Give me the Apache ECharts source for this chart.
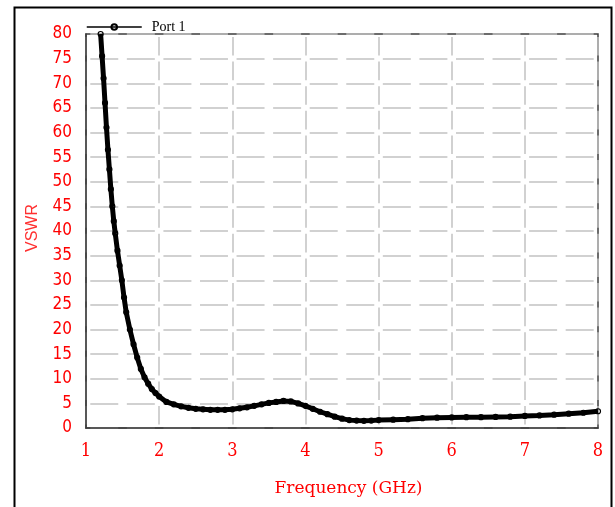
<!DOCTYPE html>
<html>
<head>
<meta charset="utf-8">
<script src="https://cdn.jsdelivr.net/npm/echarts@6/dist/echarts.min.js"></script>
<style>
  html, body { margin: 0; padding: 0; background: #fff; }
  #chart { width: 615px; height: 507px; }
</style>
</head>
<body>
<div id="chart"></div>
<script>
// readings of the Port 1 curve, frequency in GHz
const freq = [
  1.2, 1.22, 1.24, 1.26, 1.28, 1.3, 1.32, 1.34, 1.36, 1.38, 1.4, 1.43, 1.46, 1.49, 1.52, 1.55,
  1.6, 1.65, 1.7, 1.75, 1.8, 1.85, 1.9, 1.95, 2.0, 2.1, 2.2, 2.3, 2.4, 2.5, 2.6, 2.7, 2.8, 2.9,
  3.0, 3.1, 3.2, 3.3, 3.4, 3.5, 3.6, 3.7, 3.8, 3.9, 4.0, 4.1, 4.2, 4.3, 4.4, 4.5, 4.6, 4.7, 4.8,
  4.9, 5.0, 5.2, 5.4, 5.6, 5.8, 6.0, 6.2, 6.4, 6.6, 6.8, 7.0, 7.2, 7.4, 7.6, 7.8, 8.0,
]
const vswr = [
  80, 75.5, 71, 66, 61, 56.5, 52.5, 48.5, 45, 42, 39.5, 36, 33, 30, 26.5, 23.5,
  20, 17, 14.3, 12, 10.3, 9, 7.9, 7.1, 6.4, 5.3, 4.8, 4.4, 4.1, 3.9, 3.8, 3.7, 3.7, 3.7,
  3.8, 4.0, 4.2, 4.5, 4.8, 5.1, 5.3, 5.5, 5.4, 5.0, 4.5, 3.9, 3.3, 2.8, 2.3, 1.9, 1.6, 1.5, 1.45,
  1.5, 1.6, 1.7, 1.8, 2.0, 2.1, 2.15, 2.2, 2.2, 2.25, 2.3, 2.45, 2.55, 2.7, 2.9, 3.1, 3.4,
]
const seriesName = 'Port 1'
const xTitle = 'Frequency (GHz)'
const yTitle = 'VSWR'

;(function () {
  const red = '#ff0000'
  const gridGray = '#c2c2c2'
  const frame = '#3c3c3c'

  const chart = echarts.init(document.getElementById('chart'), null, { renderer: 'canvas' })

  chart.setOption({
    backgroundColor: '#fff',
    animation: false,
    graphic: [
      {
        type: 'rect',
        left: 12,
        top: 5,
        shape: { width: 597, height: 520 },
        style: { fill: 'none', stroke: '#000', lineWidth: 2 },
        z: -1,
      },
    ],
    legend: {
      data: [seriesName],
      left: 86,
      top: 20,
      padding: 0,
      itemWidth: 55,
      itemHeight: 7,
      textStyle: { fontFamily: 'Liberation Serif', fontSize: 14, color: '#000', padding: [0, 0, 0, 5] },
      lineStyle: { width: 1.5 },
    },
    grid: {
      left: 86,
      top: 34,
      right: 17,
      bottom: 79,
      show: true,
      borderColor: frame,
      borderWidth: 1.5,
      backgroundColor: 'transparent',
    },
    xAxis: {
      type: 'value',
      min: 1,
      max: 8,
      interval: 1,
      name: xTitle,
      nameLocation: 'middle',
      nameGap: 52,
      nameTextStyle: { fontFamily: 'DejaVu Serif', fontSize: 17, color: red, padding: [0, 0, 0, 13] },
      axisLine: { show: true, onZero: false, lineStyle: { color: frame, width: 1.5 } },
      axisTick: { show: false },
      axisLabel: {
        margin: 14,
        fontFamily: 'DejaVu Serif Condensed, DejaVu Sans Condensed, serif',
        fontSize: 18,
        color: red,
      },
      splitLine: {
        show: true,
        lineStyle: { color: gridGray, width: 1.5, type: [18.6, 6], dashOffset: 21.6 },
      },
    },
    yAxis: {
      type: 'value',
      min: 0,
      max: 80,
      interval: 5,
      name: yTitle,
      nameLocation: 'middle',
      nameGap: 45,
      nameTextStyle: { fontFamily: 'Liberation Sans', fontSize: 16, color: '#ff3030', padding: [0, 0, 0, 6] },
      axisLine: { show: true, lineStyle: { color: frame, width: 1.5 } },
      axisTick: { show: false },
      axisLabel: {
        margin: 14,
        fontFamily: 'DejaVu Sans Condensed, sans-serif',
        fontSize: 17,
        color: red,
      },
      splitLine: {
        show: true,
        lineStyle: { color: gridGray, width: 1.5, type: [28, 8.57], dashOffset: 32.3 },
      },
    },
    series: [
      {
        name: seriesName,
        type: 'line',
        data: freq.map((f, i) => [f, vswr[i]]),
        clip: true,
        symbol: 'circle',
        symbolSize: 5,
        showAllSymbol: true,
        color: '#000',
        lineStyle: { color: '#000', width: 5 },
        itemStyle: { color: 'transparent', borderColor: '#000', borderWidth: 1.2 },
      },
    ],
  })
})()
</script>
</body>
</html>
